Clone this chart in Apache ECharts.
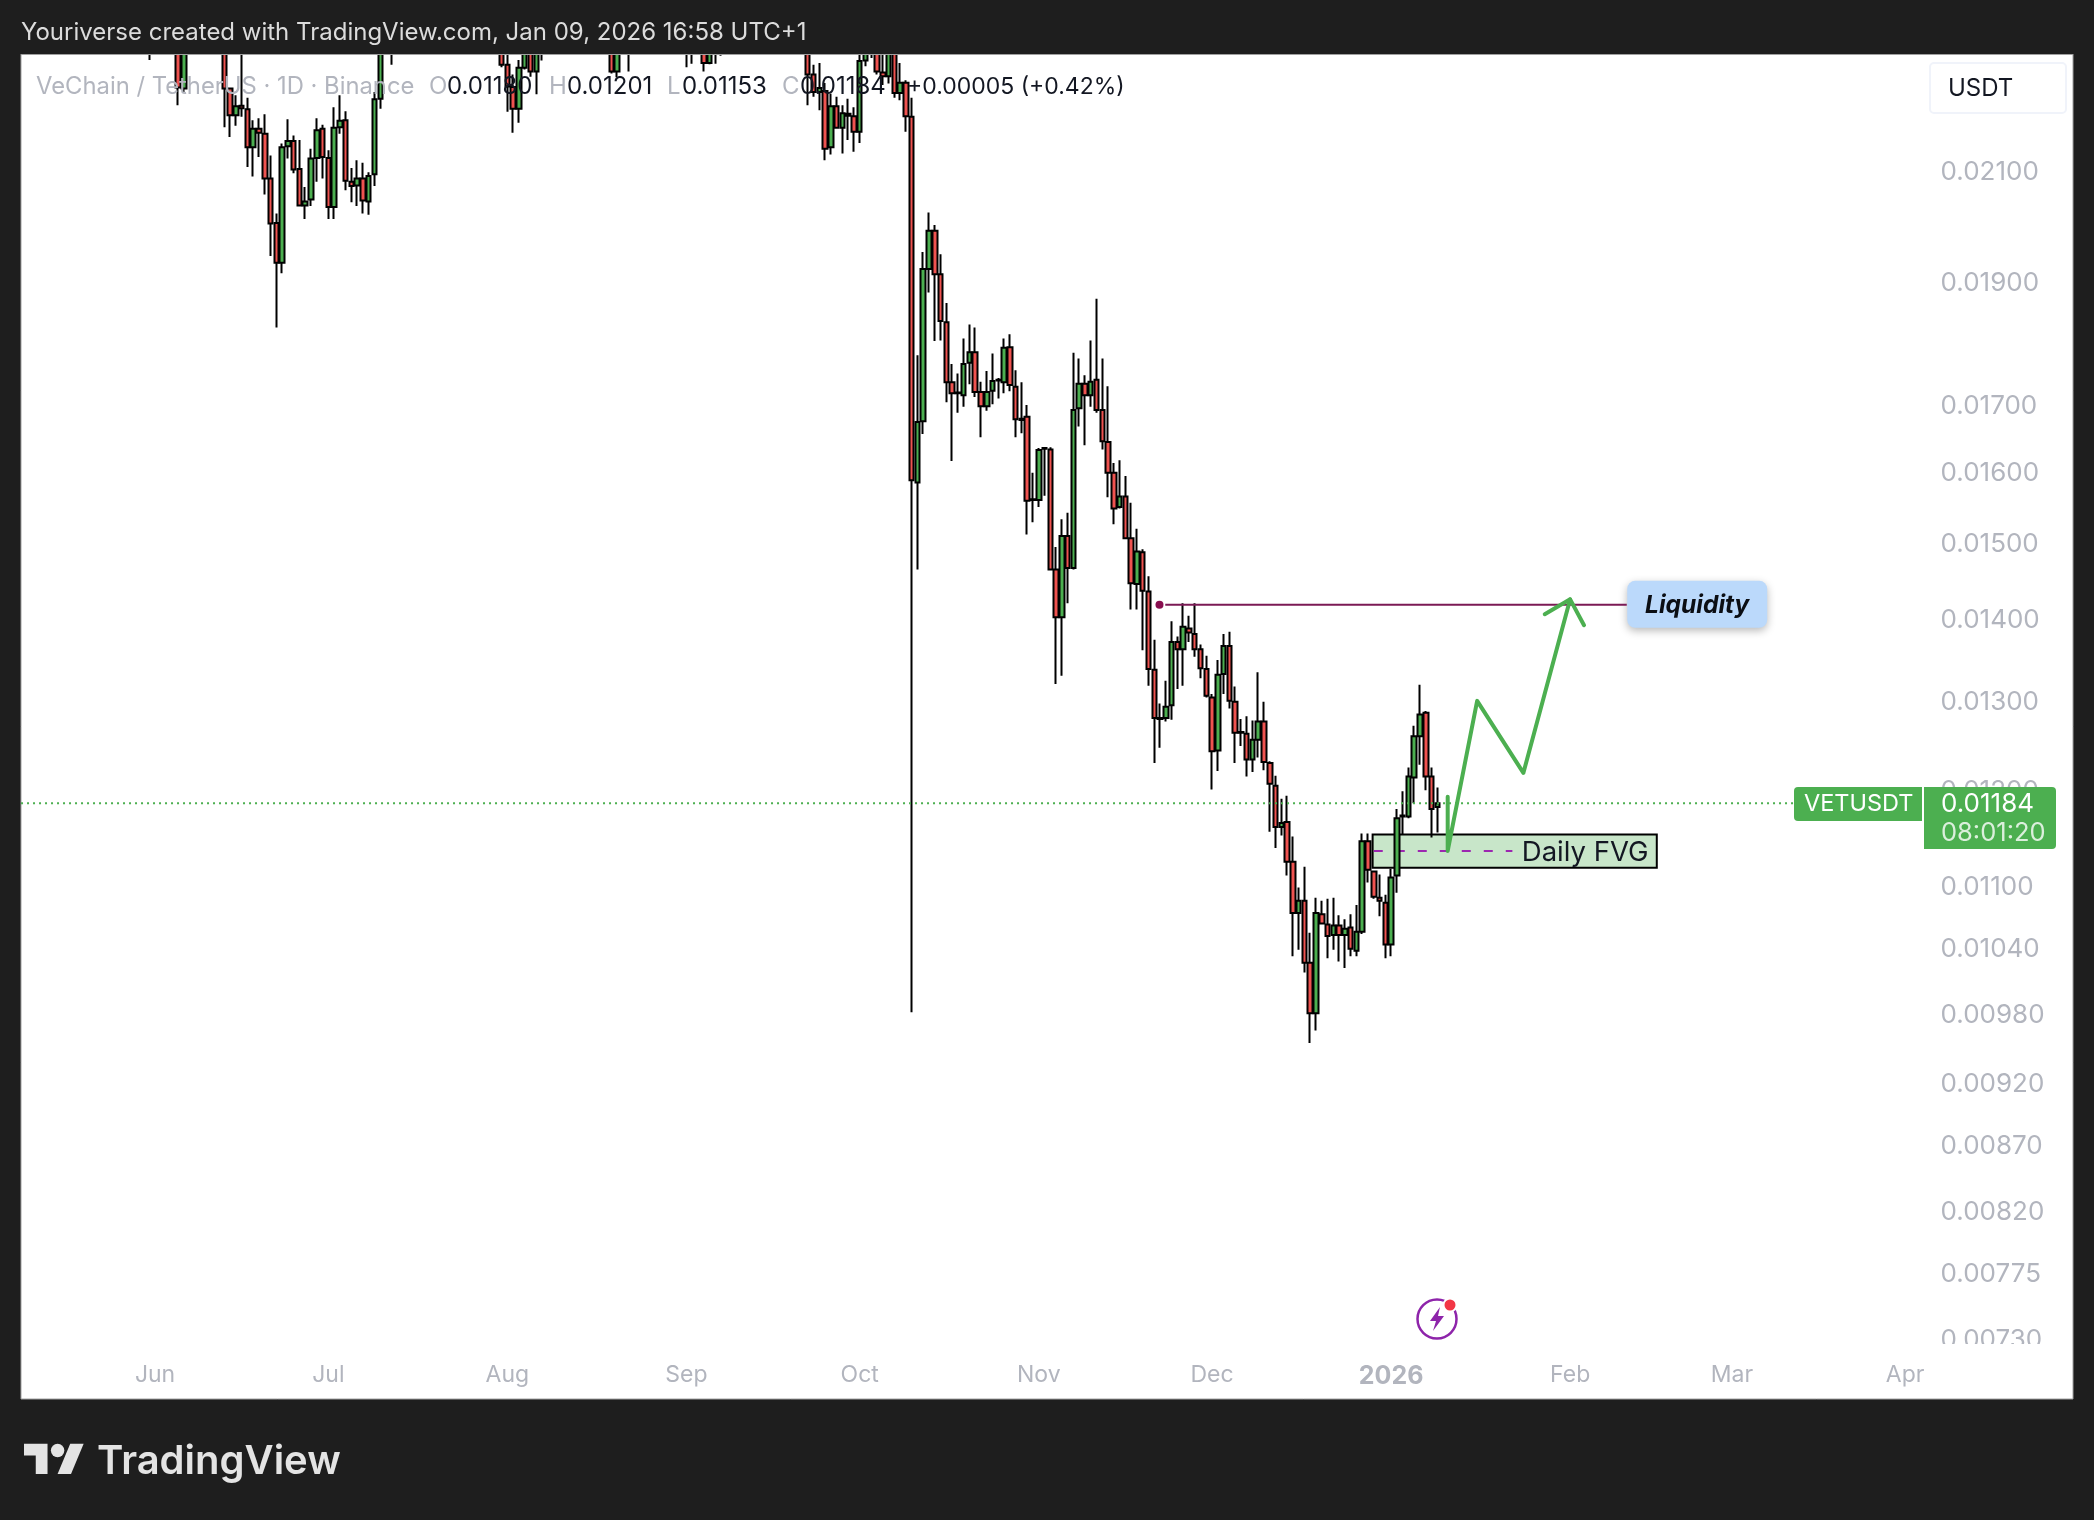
<!DOCTYPE html>
<html>
<head>
<meta charset="utf-8">
<title>VETUSDT 1D</title>
<script src="https://cdn.jsdelivr.net/npm/echarts@6/dist/echarts.min.js"></script>
<style>
html,body{margin:0;padding:0;background:#1e1e1e;}
#chart{width:2094px;height:1520px;}
</style>
</head>
<body>
<div id="chart"></div>
<script>
// Daily candles: [date, open, close, low, high]
const candlesJun = [
  ['2025-05-31',0.02405,0.02385,0.02320,0.02450],
  ['2025-06-05',0.02450,0.02263,0.02227,0.02500],
  ['2025-06-06',0.02261,0.02410,0.02254,0.02460],
  ['2025-06-13',0.02420,0.02261,0.02183,0.02460],
  ['2025-06-14',0.02261,0.02207,0.02164,0.02263],
  ['2025-06-15',0.02207,0.02225,0.02186,0.02247],
  ['2025-06-16',0.02226,0.02221,0.02204,0.02360],
  ['2025-06-17',0.02219,0.02144,0.02106,0.02242],
  ['2025-06-18',0.02144,0.02180,0.02088,0.02197],
  ['2025-06-19',0.02180,0.02172,0.02125,0.02201],
  ['2025-06-20',0.02170,0.02084,0.02054,0.02209],
  ['2025-06-21',0.02084,0.02001,0.01943,0.02128],
  ['2025-06-22',0.02002,0.01931,0.01821,0.02019],
  ['2025-06-23',0.01931,0.02144,0.01913,0.02151],
  ['2025-06-24',0.02146,0.02156,0.02122,0.02199],
  ['2025-06-25',0.02156,0.02101,0.02094,0.02167],
  ['2025-06-26',0.02102,0.02034,0.02033,0.02158],
  ['2025-06-27',0.02034,0.02041,0.02009,0.02068],
  ['2025-06-28',0.02045,0.02122,0.02033,0.02141],
  ['2025-06-29',0.02123,0.02177,0.02078,0.02201],
  ['2025-06-30',0.02180,0.02125,0.02084,0.02188]
];
const candlesJul = [
  ['2025-07-01',0.02123,0.02031,0.02009,0.02138],
  ['2025-07-02',0.02031,0.02182,0.02009,0.02223],
  ['2025-07-03',0.02183,0.02196,0.02170,0.02247],
  ['2025-07-04',0.02197,0.02080,0.02062,0.02215],
  ['2025-07-05',0.02078,0.02070,0.02040,0.02104],
  ['2025-07-06',0.02071,0.02084,0.02033,0.02119],
  ['2025-07-07',0.02084,0.02043,0.02019,0.02114],
  ['2025-07-08',0.02041,0.02089,0.02017,0.02096],
  ['2025-07-09',0.02092,0.02239,0.02070,0.02254],
  ['2025-07-10',0.02240,0.02380,0.02220,0.02420],
  ['2025-07-12',0.02430,0.02410,0.02310,0.02470],
  ['2025-07-31',0.02450,0.02310,0.02305,0.02490]
];
const candlesAug = [
  ['2025-08-01',0.02310,0.02265,0.02214,0.02350],
  ['2025-08-02',0.02264,0.02220,0.02172,0.02290],
  ['2025-08-03',0.02220,0.02304,0.02192,0.02320],
  ['2025-08-04',0.02304,0.02380,0.02300,0.02430],
  ['2025-08-05',0.02400,0.02296,0.02285,0.02450],
  ['2025-08-06',0.02296,0.02410,0.02249,0.02440],
  ['2025-08-07',0.02400,0.02420,0.02319,0.02460],
  ['2025-08-19',0.02430,0.02296,0.02292,0.02460],
  ['2025-08-20',0.02296,0.02410,0.02284,0.02440],
  ['2025-08-22',0.02400,0.02420,0.02296,0.02460]
];
const candlesSep = [
  ['2025-09-01',0.02400,0.02410,0.02305,0.02450],
  ['2025-09-02',0.02410,0.02430,0.02312,0.02460],
  ['2025-09-04',0.02420,0.02314,0.02296,0.02450],
  ['2025-09-05',0.02314,0.02400,0.02311,0.02430],
  ['2025-09-06',0.02400,0.02410,0.02312,0.02440],
  ['2025-09-07',0.02410,0.02420,0.02329,0.02450],
  ['2025-09-22',0.02450,0.02290,0.02227,0.02480],
  ['2025-09-23',0.02290,0.02254,0.02244,0.02310],
  ['2025-09-24',0.02254,0.02262,0.02217,0.02314],
  ['2025-09-25',0.02256,0.02141,0.02119,0.02272],
  ['2025-09-26',0.02144,0.02225,0.02130,0.02250],
  ['2025-09-27',0.02225,0.02182,0.02180,0.02244],
  ['2025-09-28',0.02182,0.02211,0.02132,0.02227],
  ['2025-09-29',0.02210,0.02206,0.02158,0.02240],
  ['2025-09-30',0.02205,0.02174,0.02135,0.02223]
];
const candlesOct = [
  ['2025-10-01',0.02174,0.02318,0.02152,0.02350],
  ['2025-10-02',0.02319,0.02380,0.02307,0.02410],
  ['2025-10-03',0.02380,0.02400,0.02324,0.02430],
  ['2025-10-04',0.02410,0.02296,0.02290,0.02430],
  ['2025-10-05',0.02294,0.02286,0.02268,0.02360],
  ['2025-10-06',0.02286,0.02380,0.02271,0.02420],
  ['2025-10-07',0.02390,0.02252,0.02242,0.02430],
  ['2025-10-08',0.02252,0.02273,0.02237,0.02314],
  ['2025-10-09',0.02273,0.02205,0.02174,0.02278],
  ['2025-10-10',0.02204,0.01586,0.00980,0.02242],
  ['2025-10-11',0.01583,0.01672,0.01463,0.01776],
  ['2025-10-12',0.01673,0.01920,0.01654,0.01950],
  ['2025-10-13',0.01920,0.01988,0.01880,0.02021],
  ['2025-10-14',0.01988,0.01911,0.01799,0.01998],
  ['2025-10-15',0.01911,0.01832,0.01800,0.01946],
  ['2025-10-16',0.01830,0.01733,0.01702,0.01862],
  ['2025-10-17',0.01733,0.01716,0.01614,0.01762],
  ['2025-10-18',0.01717,0.01716,0.01686,0.01747],
  ['2025-10-19',0.01713,0.01762,0.01695,0.01803],
  ['2025-10-20',0.01764,0.01781,0.01730,0.01826],
  ['2025-10-21',0.01781,0.01718,0.01710,0.01821],
  ['2025-10-22',0.01718,0.01696,0.01649,0.01734],
  ['2025-10-23',0.01696,0.01718,0.01689,0.01751],
  ['2025-10-24',0.01720,0.01735,0.01699,0.01779],
  ['2025-10-25',0.01736,0.01737,0.01708,0.01740],
  ['2025-10-26',0.01733,0.01788,0.01716,0.01803],
  ['2025-10-27',0.01789,0.01729,0.01719,0.01810],
  ['2025-10-28',0.01726,0.01676,0.01649,0.01752],
  ['2025-10-29',0.01677,0.01675,0.01655,0.01733],
  ['2025-10-30',0.01680,0.01557,0.01510,0.01698],
  ['2025-10-31',0.01558,0.01559,0.01527,0.01597]
];
const candlesNov = [
  ['2025-11-01',0.01558,0.01630,0.01548,0.01633],
  ['2025-11-02',0.01632,0.01633,0.01564,0.01634],
  ['2025-11-03',0.01631,0.01463,0.01462,0.01634],
  ['2025-11-04',0.01463,0.01401,0.01319,0.01493],
  ['2025-11-05',0.01401,0.01508,0.01329,0.01531],
  ['2025-11-06',0.01508,0.01465,0.01419,0.01540],
  ['2025-11-07',0.01465,0.01690,0.01463,0.01780],
  ['2025-11-08',0.01693,0.01731,0.01665,0.01771],
  ['2025-11-09',0.01731,0.01713,0.01637,0.01744],
  ['2025-11-10',0.01713,0.01734,0.01695,0.01800],
  ['2025-11-11',0.01737,0.01690,0.01686,0.01869],
  ['2025-11-12',0.01690,0.01643,0.01631,0.01771],
  ['2025-11-13',0.01642,0.01597,0.01562,0.01727],
  ['2025-11-14',0.01597,0.01546,0.01524,0.01611],
  ['2025-11-15',0.01548,0.01563,0.01546,0.01615],
  ['2025-11-16',0.01563,0.01505,0.01504,0.01592],
  ['2025-11-17',0.01505,0.01445,0.01411,0.01554],
  ['2025-11-18',0.01444,0.01487,0.01411,0.01518],
  ['2025-11-19',0.01486,0.01435,0.01360,0.01490],
  ['2025-11-20',0.01434,0.01337,0.01317,0.01454],
  ['2025-11-21',0.01336,0.01279,0.01228,0.01373],
  ['2025-11-22',0.01279,0.01278,0.01245,0.01296],
  ['2025-11-23',0.01279,0.01292,0.01275,0.01323],
  ['2025-11-24',0.01294,0.01370,0.01277,0.01396],
  ['2025-11-25',0.01370,0.01361,0.01313,0.01377],
  ['2025-11-26',0.01361,0.01389,0.01317,0.01419],
  ['2025-11-27',0.01387,0.01382,0.01370,0.01403],
  ['2025-11-28',0.01380,0.01361,0.01352,0.01419],
  ['2025-11-29',0.01361,0.01338,0.01326,0.01367],
  ['2025-11-30',0.01337,0.01305,0.01303,0.01353]
];
const candlesDec = [
  ['2025-12-01',0.01303,0.01241,0.01199,0.01307],
  ['2025-12-02',0.01242,0.01330,0.01219,0.01348],
  ['2025-12-03',0.01331,0.01365,0.01307,0.01380],
  ['2025-12-04',0.01365,0.01299,0.01290,0.01383],
  ['2025-12-05',0.01298,0.01262,0.01228,0.01316],
  ['2025-12-06',0.01263,0.01262,0.01247,0.01278],
  ['2025-12-07',0.01261,0.01232,0.01213,0.01281],
  ['2025-12-08',0.01232,0.01254,0.01218,0.01276],
  ['2025-12-09',0.01254,0.01275,0.01234,0.01333],
  ['2025-12-10',0.01275,0.01229,0.01220,0.01298],
  ['2025-12-11',0.01228,0.01205,0.01154,0.01230],
  ['2025-12-12',0.01203,0.01159,0.01137,0.01214],
  ['2025-12-13',0.01159,0.01163,0.01150,0.01189],
  ['2025-12-14',0.01164,0.01123,0.01109,0.01192],
  ['2025-12-15',0.01123,0.01072,0.01031,0.01149],
  ['2025-12-16',0.01072,0.01084,0.01037,0.01097],
  ['2025-12-17',0.01084,0.01025,0.01016,0.01118],
  ['2025-12-18',0.01025,0.00979,0.00953,0.01053],
  ['2025-12-19',0.00979,0.01072,0.00964,0.01087],
  ['2025-12-20',0.01071,0.01062,0.01061,0.01084],
  ['2025-12-21',0.01061,0.01050,0.01029,0.01086],
  ['2025-12-22',0.01051,0.01060,0.01037,0.01087],
  ['2025-12-23',0.01060,0.01051,0.01026,0.01070],
  ['2025-12-24',0.01051,0.01057,0.01020,0.01066],
  ['2025-12-25',0.01058,0.01038,0.01031,0.01071],
  ['2025-12-26',0.01036,0.01054,0.01031,0.01080],
  ['2025-12-27',0.01054,0.01144,0.01052,0.01152],
  ['2025-12-28',0.01144,0.01115,0.01102,0.01152],
  ['2025-12-29',0.01113,0.01088,0.01086,0.01114],
  ['2025-12-30',0.01087,0.01084,0.01069,0.01110],
  ['2025-12-31',0.01082,0.01042,0.01029,0.01090]
];
const candlesJan = [
  ['2026-01-01',0.01042,0.01107,0.01031,0.01116],
  ['2026-01-02',0.01109,0.01168,0.01092,0.01178],
  ['2026-01-03',0.01170,0.01171,0.01151,0.01197],
  ['2026-01-04',0.01170,0.01213,0.01168,0.01223],
  ['2026-01-05',0.01212,0.01258,0.01184,0.01270],
  ['2026-01-06',0.01258,0.01283,0.01226,0.01318],
  ['2026-01-07',0.01285,0.01213,0.01198,0.01287],
  ['2026-01-08',0.01213,0.01178,0.01148,0.01223],
  ['2026-01-09',0.01180,0.01184,0.01153,0.01201]
];

// Axis labels
const priceTicks = [0.021,0.019,0.017,0.016,0.015,0.014,0.013,0.012,0.011,0.0104,0.0098,0.0092,0.0087,0.0082,0.00775,0.0073];
const monthLabels = {
  '2025-06-01':'Jun','2025-07-01':'Jul','2025-08-01':'Aug','2025-09-01':'Sep',
  '2025-10-01':'Oct','2025-11-01':'Nov','2025-12-01':'Dec','2026-01-01':'{y|2026}',
  '2026-02-01':'Feb','2026-03-01':'Mar','2026-03-31':'Apr'
};

// Drawn annotations, x in days since the first axis day, y in price
const lastPrice = 0.01184;
const lastPriceSpan = [-0.2, 306.8];
const liquidityPrice = 0.01417;
const liquidityDot = 196.9;
const liquiditySpan = [197.9, 277.8];
const liquidityLabelDay = 290;
const fvgDays = [233.8, 283];
const fvgPrices = [0.01151, 0.01117];
const fvgMidPrice = 0.01134;
const fvgMidSpan = [234, 258];
const fvgLabelDay = 270.6;
const projectionPath = [[246.8,0.01191],[246.8,0.01134],[251.9,0.01299],[259.9,0.01217],[268,0.01424]];
const projectionHead = [[263.6,0.01405],[268,0.01424],[270.4,0.01391]];

// One category per calendar day, so weekends and gaps keep their width
const AXIS_DAYS = 329;
const axisDates = [];
for (let i = 0; i < AXIS_DAYS; i++) {
  axisDates.push(new Date(Date.UTC(2025, 4, 9 + i)).toISOString().slice(0, 10));
}
const candles = [].concat(candlesJun, candlesJul, candlesAug, candlesSep, candlesOct, candlesNov, candlesDec, candlesJan);

const UI_FONT = 'Inter, "Noto Sans", sans-serif';
const GREY = '#b2b5be';
const GREEN = '#4caf50';
const PAGE = '#1e1e1e';

function chromeText(text, x, y, fill, size, weight) {
  return {
    type: 'text', z: 30, silent: true,
    style: { text, x, y, fill, font: (weight || 400) + ' ' + size + 'px ' + UI_FONT, textVerticalAlign: 'middle' }
  };
}

// Legend row and page furniture around the plot
const chrome = [
  { type: 'rect', z: -20, shape: { x: 21, y: 54, width: 2052, height: 1345 }, style: { fill: '#ffffff', stroke: '#a0a0a0', lineWidth: 1 } },
  // Header band hides anything that runs off the top of the price range
  { type: 'rect', z: 10, shape: { x: 0, y: 0, width: 2094, height: 54 }, style: { fill: PAGE } },
  { type: 'rect', z: 11, shape: { x: 21, y: 54, width: 2052, height: 1 }, style: { fill: '#a0a0a0' } },
  { type: 'rect', z: 9, shape: { x: 1925, y: 1344, width: 145, height: 22 }, style: { fill: '#ffffff' } },
  chromeText('Youriverse created with TradingView.com, Jan 09, 2026 16:58 UTC+1', 21, 33, '#dcdcdc', 24),
  chromeText('VeChain / TetherUS \u00b7 1D \u00b7 Binance', 36, 87, GREY, 23.8),
  chromeText('O', 429, 87, GREY, 24), chromeText('0.01180', 447, 87, '#131722', 24),
  chromeText('H', 549, 87, GREY, 24), chromeText('0.01201', 567, 87, '#131722', 24),
  chromeText('L', 667, 87, GREY, 24), chromeText('0.01153', 682, 87, '#131722', 24),
  chromeText('C', 782, 87, GREY, 24), chromeText('0.01184', 800, 87, '#131722', 24),
  chromeText('+0.00005 (+0.42%)', 907, 87, '#131722', 23),
  { type: 'rect', z: 29, shape: { x: 1930, y: 63, width: 136, height: 50, r: 4 }, style: { fill: '#ffffff', stroke: '#f0f3fa', lineWidth: 2 } },
  chromeText('USDT', 1948, 89, '#131722', 24),
  { type: 'rect', z: 29, shape: { x: 1794, y: 787, width: 128, height: 34, r: [4, 0, 0, 4] }, style: { fill: GREEN } },
  { type: 'rect', z: 29, shape: { x: 1924, y: 787, width: 132, height: 62, r: [0, 4, 4, 0] }, style: { fill: GREEN } },
  chromeText('VETUSDT', 1804, 804, '#ffffff', 23.5),
  chromeText('0.01184', 1941, 804, '#ffffff', 26),
  chromeText('08:01:20', 1941, 833, 'rgba(255,255,255,0.8)', 25.5),
  // Streaks badge
  { type: 'circle', z: 29, shape: { cx: 1437, cy: 1319, r: 19.5 }, style: { fill: '#ffffff', stroke: '#8e24aa', lineWidth: 2.5 } },
  { type: 'polygon', z: 29, shape: { points: [[1440,1307],[1430,1321],[1436,1321],[1433,1331],[1444,1316],[1438,1316]] }, style: { fill: '#8e24aa' } },
  { type: 'circle', z: 29, shape: { cx: 1450, cy: 1305, r: 6.5 }, style: { fill: '#f23645', stroke: '#ffffff', lineWidth: 2 } },
  // Wordmark in the footer
  {
    type: 'group', z: 29, x: 24, y: 1437, scaleX: 1.68, scaleY: 1.68,
    children: [
      { type: 'polygon', z: 29, shape: { points: [[14,22],[7,22],[7,11],[0,11],[0,4],[14,4]] }, style: { fill: '#e4e4e4' } },
      { type: 'polygon', z: 29, shape: { points: [[28,22],[20,22],[27.5,4],[35.5,4]] }, style: { fill: '#e4e4e4' } },
      { type: 'circle', z: 29, shape: { cx: 20, cy: 8, r: 4 }, style: { fill: '#e4e4e4' } }
    ]
  },
  chromeText('TradingView', 97, 1462, '#e4e4e4', 40, 600)
];

function fixedLine(name, points, color, width, dash, z, cap) {
  return {
    name, type: 'line', xAxisIndex: 1, yAxisIndex: 0, z, silent: true, animation: false,
    showSymbol: false, symbol: 'none', clip: false, data: points,
    lineStyle: { color, width, type: dash || 'solid', cap: cap || 'butt', join: 'round' }
  };
}

const option = {
  backgroundColor: PAGE,
  animation: false,
  textStyle: { fontFamily: UI_FONT },
  graphic: { elements: chrome },
  grid: { left: 19.3, top: 55.5, width: 1900.3, height: 1289, containLabel: false },
  xAxis: [
    {
      type: 'category', data: axisDates, boundaryGap: true,
      axisLine: { show: false }, axisTick: { show: false }, splitLine: { show: false },
      axisLabel: {
        color: GREY, fontSize: 23, fontFamily: UI_FONT, margin: 19, hideOverlap: false,
        interval: (i, value) => value in monthLabels,
        formatter: value => monthLabels[value] || '',
        rich: { y: { color: GREY, fontSize: 25, fontWeight: 700, fontFamily: UI_FONT } }
      }
    },
    { type: 'value', min: -0.5, max: AXIS_DAYS - 0.5, show: false, splitLine: { show: false } }
  ],
  yAxis: [{
    type: 'log', position: 'right', min: 0.007255, max: 0.023295, logBase: 10,
    axisLine: { show: false }, axisTick: { show: false }, splitLine: { show: false }, minorTick: { show: false },
    axisLabel: {
      margin: 21, customValues: priceTicks, showMinLabel: true, showMaxLabel: true,
      formatter: v => '{p|' + Number(v).toFixed(5) + '}',
      rich: { p: { color: GREY, fontSize: 26, fontFamily: UI_FONT, padding: [5, 0, 0, 0] } }
    }
  }],
  series: [
    {
      name: 'Daily FVG', type: 'custom', xAxisIndex: 1, yAxisIndex: 0, z: 1, silent: true, clip: false,
      data: [[fvgDays[0], fvgPrices[0]]],
      renderItem(params, api) {
        const a = api.coord([fvgDays[0], fvgPrices[0]]);
        const b = api.coord([fvgDays[1], fvgPrices[1]]);
        const l = api.coord([fvgLabelDay, fvgMidPrice]);
        return {
          type: 'group',
          children: [
            { type: 'rect', shape: { x: a[0], y: a[1], width: b[0] - a[0], height: b[1] - a[1] },
              style: { fill: '#c8e6c9', stroke: '#000000', lineWidth: 2 } },
            { type: 'text', style: { text: 'Daily FVG', x: l[0], y: l[1] + 2, fill: '#131722',
              font: '400 27.5px ' + UI_FONT, textAlign: 'center', textVerticalAlign: 'middle' } }
          ]
        };
      }
    },
    fixedLine('FVG midline', [[fvgMidSpan[0], fvgMidPrice], [fvgMidSpan[1], fvgMidPrice]], '#9c27b0', 2, [9, 13], 1.5),
    {
      name: 'VETUSDT', type: 'candlestick', xAxisIndex: 0, yAxisIndex: 0, z: 2, silent: true, barWidth: 5, clip: true,
      encode: { x: 0, y: [1, 2, 3, 4] },
      data: candles,
      itemStyle: { color: GREEN, color0: '#ef5350', borderColor: '#000000', borderColor0: '#000000', borderColorDoji: '#000000', borderWidth: 2 }
    },
    fixedLine('Last price', [[lastPriceSpan[0], lastPrice], [lastPriceSpan[1], lastPrice]], GREEN, 2, [2, 4], 3),
    fixedLine('Liquidity line', [[liquiditySpan[0], liquidityPrice], [liquiditySpan[1], liquidityPrice]], '#7b1a55', 2, null, 3),
    {
      name: 'Liquidity', type: 'custom', xAxisIndex: 1, yAxisIndex: 0, z: 3, silent: true, clip: false,
      data: [[liquidityDot, liquidityPrice]],
      renderItem(params, api) {
        const dot = api.coord([liquidityDot, liquidityPrice]);
        const tag = api.coord([liquidityLabelDay, liquidityPrice]);
        return {
          type: 'group',
          children: [
            { type: 'circle', shape: { cx: dot[0], cy: dot[1], r: 4 }, style: { fill: '#880e4f' } },
            { type: 'rect', shape: { x: tag[0] - 70, y: tag[1] - 24, width: 140, height: 47, r: 8 },
              style: { fill: '#bbd9fb', shadowBlur: 8, shadowOffsetY: 3, shadowColor: 'rgba(0,0,0,0.28)' } },
            { type: 'text', style: { text: 'Liquidity', x: tag[0], y: tag[1] + 1, fill: '#0b0e14',
              font: 'italic 700 24.5px ' + UI_FONT, textAlign: 'center', textVerticalAlign: 'middle' } }
          ]
        };
      }
    },
    fixedLine('Projection', projectionPath, GREEN, 4, null, 4, 'round'),
    fixedLine('Projection head', projectionHead, GREEN, 4, null, 4, 'round')
  ]
};

const chart = echarts.init(document.getElementById('chart'), null, { renderer: 'canvas' });
chart.setOption(option);
</script>
</body>
</html>
